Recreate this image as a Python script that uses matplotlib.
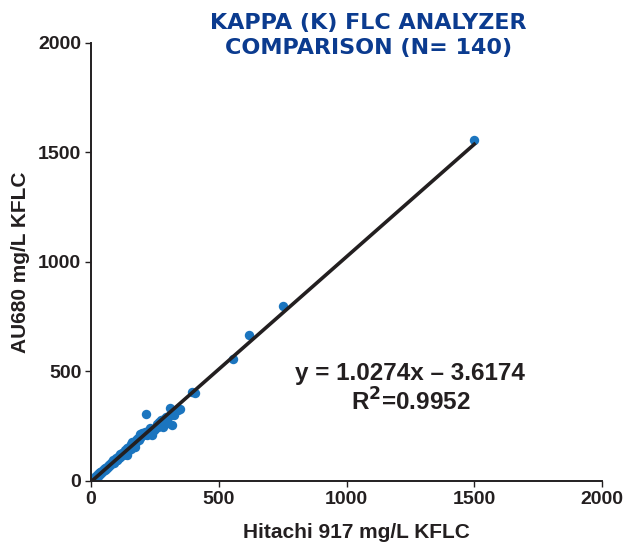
import numpy as np
import matplotlib
matplotlib.use("Agg")
import matplotlib.pyplot as plt

plt.rcParams['font.family'] = ['Liberation Sans', 'DejaVu Sans']

# Hitachi 917 (x) vs AU680 (y), mg/L KFLC
x_low = [1, 2, 3, 4, 5, 6, 7, 8, 9, 10, 11, 12, 13, 14, 15, 16, 17, 18, 19, 20,
         21, 22, 23, 24, 25, 26, 27, 28, 29, 30, 31, 32, 33, 35, 36, 38, 39, 41,
         42, 44, 46, 48, 50, 52, 54, 56, 58]
y_low = [3, 1, 4, 2, 6, 5, 4, 9, 7, 12, 10, 9, 14, 11, 16, 13, 19, 15, 17, 21,
         18, 24, 20, 26, 22, 25, 30, 27, 24, 33, 28, 35, 30, 34, 39, 36, 42, 40,
         45, 41, 48, 44, 53, 49, 51, 59, 55]

x_mid = [60, 62, 64, 65, 67, 69, 70, 72, 74, 76, 78, 80, 82, 84, 86, 88, 90, 92,
         95, 97, 100, 102, 105, 108, 110, 113, 115, 118, 120, 123, 125, 128, 130,
         133, 135, 138, 140, 143, 146, 150]
y_mid = [57, 65, 60, 70, 62, 74, 68, 71, 79, 72, 83, 77, 88, 80, 86, 95, 84, 97,
         92, 104, 98, 96, 110, 103, 116, 108, 121, 112, 119, 128, 118, 133, 126,
         124, 141, 132, 150, 138, 146, 155]

x_upper = [141, 145, 155, 158, 160, 165, 168, 170, 172, 175, 178, 180, 185, 188,
           190, 192, 195, 200, 204, 210, 212, 215, 220, 225, 232, 235, 239, 245,
           248, 255, 258, 262, 265, 275, 282, 285, 295, 298, 301, 305, 309, 317,
           320, 325, 330, 340, 350, 395, 407]
y_upper = [119, 150, 148, 170, 178, 173, 180, 168, 155, 185, 176, 192, 198, 188,
           215, 194, 205, 220, 210, 225, 214, 305, 211, 230, 240, 226, 210, 235,
           232, 244, 262, 247, 270, 278, 247, 282, 290, 275, 265, 298, 333, 256,
           315, 300, 318, 324, 330, 406, 402]

x_high = [556, 618, 750, 1500]
y_high = [557, 667, 800, 1555]

slope = 1.0274
intercept = -3.6174
r2 = 0.9952

x = np.array(x_low + x_mid + x_upper + x_high)
y = np.array(y_low + y_mid + y_upper + y_high)

fig = plt.figure(figsize=(6.25, 5.48), dpi=100)
ax = fig.add_axes([0.1456, 0.1223, 0.8176, 0.7993])

ax.scatter(x, y, s=46, color='#1b75bf', zorder=2, linewidths=0)
xs = np.array([x.min(), x.max()])
ax.plot(xs, slope * xs + intercept, color='#231f20', lw=2.6, zorder=3)

ax.set_xlim(0, 2000)
ax.set_ylim(0, 2000)
ax.set_xticks([0, 500, 1000, 1500, 2000])
ax.set_yticks([0, 500, 1000, 1500, 2000])
ax.spines['top'].set_visible(False)
ax.spines['right'].set_visible(False)
for s in ['left', 'bottom']:
    ax.spines[s].set_color('#231f20')
    ax.spines[s].set_linewidth(1.4)
ax.tick_params(direction='out', length=4, width=1, color='#231f20',
               labelsize=14, labelcolor='#231f20', pad=3)
for lab in ax.get_xticklabels() + ax.get_yticklabels():
    lab.set_fontweight('bold')

ax.set_xlabel("Hitachi 917 mg/L KFLC", fontsize=15, fontweight='bold',
              color='#231f20')
ax.xaxis.set_label_coords(0.52, -0.095)
ax.set_ylabel("AU680 mg/L KFLC", fontsize=15, fontweight='bold',
              color='#231f20', labelpad=6)

fig.text(0.59, 0.935, "KAPPA (Κ) FLC ANALYZER\nCOMPARISON (N= 140)",
         ha='center', va='center', fontsize=16, fontweight='bold',
         color='#0b3b8f', linespacing=1.3, family=['DejaVu Sans'])

ax.text(0.625, 0.21, "y = 1.0274x \u2013 3.6174\nR$^\\mathbf{2}$=0.9952",
        transform=ax.transAxes, ha='center', va='center', fontsize=17.5,
        fontweight='bold', color='#231f20', linespacing=1.15)

fig.savefig("out.png", dpi=100)
